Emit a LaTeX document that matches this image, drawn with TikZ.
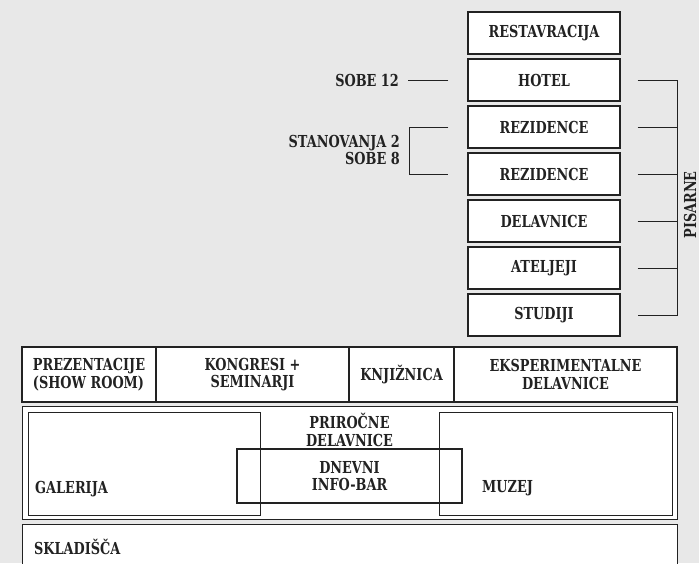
\documentclass[tikz,border=0pt]{standalone}
\usepackage{fontspec}
\setmainfont{DejaVu Serif}[FakeStretch=0.78]
\usetikzlibrary{positioning}
\definecolor{bgray}{HTML}{E8E8E8}
\definecolor{ink}{HTML}{222222}
\tikzset{
    lbl/.style={font=\bfseries\fontsize{16.5}{17.5}\selectfont, text=ink, align=center, inner sep=0pt},
    room/.style={draw=ink, fill=white, line width=1.3pt, minimum width=152pt, minimum height=42pt, lbl},
    cell/.style={draw=ink, fill=white, line width=1.3pt, minimum height=55pt, outer sep=0pt, lbl},
    frame/.style={draw=ink, line width=1.3pt, inner sep=0pt},
    link/.style={draw=ink, line width=1pt},
}
\begin{document}
\begin{tikzpicture}[x=1pt, y=-1pt]
    \fill[bgray] (0,0) rectangle (699,563);
    \useasboundingbox (0,0) rectangle (699,563);

    % tower
    \foreach \name/\txt [count=\i from 0] in {restavracija/RESTAVRACIJA, hotel/HOTEL, rezidenceA/REZIDENCE, rezidenceB/REZIDENCE, delavnice/DELAVNICE, ateljeji/ATELJEJI, studiji/STUDIJI} {
            \node[room] (\name) at (544, 33+47*\i) {\txt};
        }

    % pisarne bracket
    \draw[link] ([xshift=17pt]hotel.east) -- ++(40,0) |- ([xshift=17pt]studiji.east);
    \foreach \name in {rezidenceA, rezidenceB, delavnice, ateljeji} {
            \draw[link] ([xshift=17pt]\name.east) -- ++(40,0);
        }
    \node[lbl, rotate=90] (pisarne) at (690, 205) {PISARNE};

    % left notes
    \draw[link] ([xshift=-19pt]hotel.west) -- ++(-40,0) node[lbl, left=9pt] (sobe) {SOBE 12};
    \draw[link] ([xshift=-19pt]rezidenceA.west) -- ++(-39,0) |- ([xshift=-19pt]rezidenceB.west);
    \node[lbl, align=right, anchor=east] (stanovanja) at (400, 150) {STANOVANJA 2\\SOBE 8};

    % first row
    \node[cell, minimum width=134pt, align=left, anchor=west] (prezentacije) at (22, 374.5) {PREZENTACIJE\\(SHOW ROOM)};
    \node[cell, minimum width=193pt, right=0pt of prezentacije] (kongresi) {KONGRESI +\\SEMINARJI};
    \node[cell, minimum width=105pt, right=0pt of kongresi] (knjiznica) {KNJIŽNICA};
    \node[cell, minimum width=223pt, right=0pt of knjiznica] (eksperimentalne) {EKSPERIMENTALNE\\DELAVNICE};

    % ground floor
    \node[frame, fill=white, minimum width=655pt, minimum height=113pt, anchor=north west] (pritlicje) at (22, 406) {};
    \node[frame, minimum width=232pt, minimum height=103pt, anchor=north west] (galerija) at (28, 412) {};
    \node[frame, minimum width=233pt, minimum height=103pt, anchor=north west] (muzej) at (439, 412) {};
    \node[frame, minimum width=225pt, minimum height=54pt, lbl] (infobar) at (349.5, 476) {DNEVNI\\INFO-BAR};
    \node[lbl] (priročne) at (349.5, 430) {PRIROČNE\\DELAVNICE};
    \node[lbl, anchor=west] (galerijaTxt) at (35, 489) {GALERIJA};
    \node[lbl, anchor=west] (muzejTxt) at (482, 488) {MUZEJ};

    % storage
    \node[frame, fill=white, minimum width=655pt, minimum height=50pt, anchor=north west] (skladisca) at (22, 524) {};
    \node[lbl, anchor=west] (skladiscaTxt) at (34, 547) {SKLADIŠČA};
\end{tikzpicture}
\end{document}
